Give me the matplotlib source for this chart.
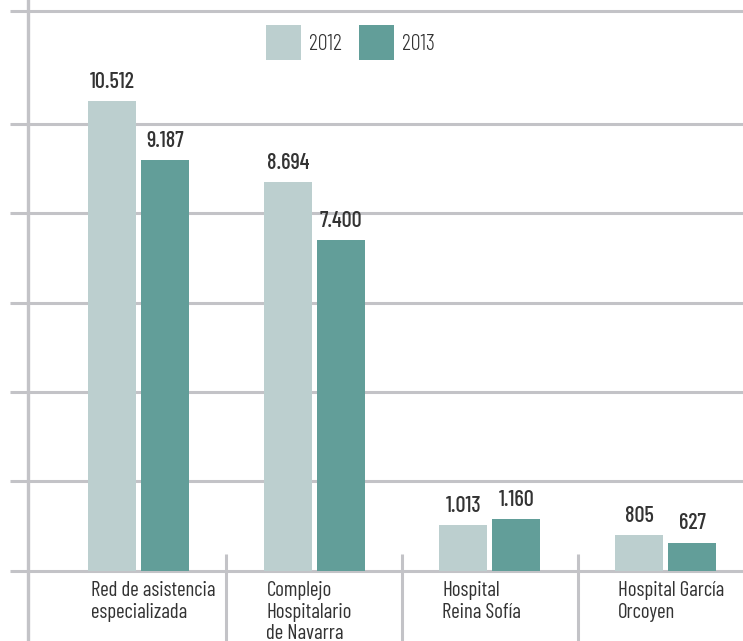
import matplotlib
matplotlib.use("Agg")
import matplotlib.pyplot as plt
from matplotlib.lines import Line2D
from matplotlib.patches import Patch
import numpy as np

categories = ["Red de asistencia\nespecializada", "Complejo\nHospitalario\nde Navarra",
              "Hospital\nReina Sofía", "Hospital García\nOrcoyen"]
v2012 = [10512, 8694, 1013, 805]
v2013 = [9187, 7400, 1160, 627]
series_names = ["2012", "2013"]

def fmt(v):
    return f"{v:,}".replace(",", ".")

C12 = "#bccfcf"
C13 = "#629e99"
GRID = "#c3c3c7"
TXT = "#333333"
FONT = ["Barlow Condensed", "Liberation Sans", "DejaVu Sans"]
plt.rcParams['font.family'] = FONT

W, H = 743, 641
fig = plt.figure(figsize=(W/100, H/100), dpi=100)
y0_px = 641 - 570.7   # zero line from bottom
ytop_px = 641 - 11
ax = fig.add_axes([28/W, y0_px/H, (W-28)/W, (ytop_px-y0_px)/H])
ymax = 12527
ax.set_ylim(0, ymax)
xl = -(138.5-28)/175.7
xr = (743-138.5)/175.7
ax.set_xlim(xl, xr)

x = np.arange(len(categories))
bw = 48/175.7
off = 26.5/175.7
b1 = ax.bar(x-off, v2012, bw, color=C12, zorder=3)
b2 = ax.bar(x+off, v2013, bw, color=C13, zorder=3)

for bars, vals in ((b1, v2012), (b2, v2013)):
    for b, v in zip(bars, vals):
        ax.annotate(fmt(v), (b.get_x()+b.get_width()/2, b.get_height()),
                    xytext=(0, 9.5), textcoords="offset points",
                    ha="center", va="baseline", fontsize=16, fontweight=500,
                    color=TXT, zorder=4)

for s in ax.spines.values():
    s.set_visible(False)
ticks = [0, 2000, 4000, 6000, 8000, 10000, ymax]
ax.set_yticks(ticks)
ax.set_yticklabels([])
ax.tick_params(axis="y", length=13, width=2.2, color=GRID, direction="out")
ax.tick_params(axis="x", length=0, labelbottom=False)
ax.set_xticks([])
ax.grid(axis="y", color=GRID, linewidth=2.2, zorder=1)
for gl in ax.get_ygridlines():
    gl.set_clip_on(False)

# separators
ax.vlines([0.5, 1.5, 2.5], -3000, 375, color=GRID, linewidth=2.2, clip_on=False, zorder=1)
fig.add_artist(Line2D([28/W, 28/W], [0, 1], transform=fig.transFigure,
                      color=GRID, linewidth=2.4, zorder=5))

for xi, lab in zip(x, categories):
    ax.text(xi-0.272, -240, lab, ha="left", va="top", fontsize=15, fontweight=400, color=TXT,
            linespacing=1.16, clip_on=False)

handles = [Patch(facecolor=C12, edgecolor="none"), Patch(facecolor=C13, edgecolor="none")]
leg = ax.legend(handles, series_names, ncol=2, frameon=False,
                prop={"size": 16, "weight": 300},
                loc="upper left", bbox_to_anchor=(266/W, 1-25/H),
                bbox_transform=fig.transFigure, borderpad=0, borderaxespad=0,
                handlelength=1.58, handleheight=2.05, handletextpad=0.36,
                columnspacing=0.75, labelcolor=TXT)

fig.savefig("out.png", dpi=100)
